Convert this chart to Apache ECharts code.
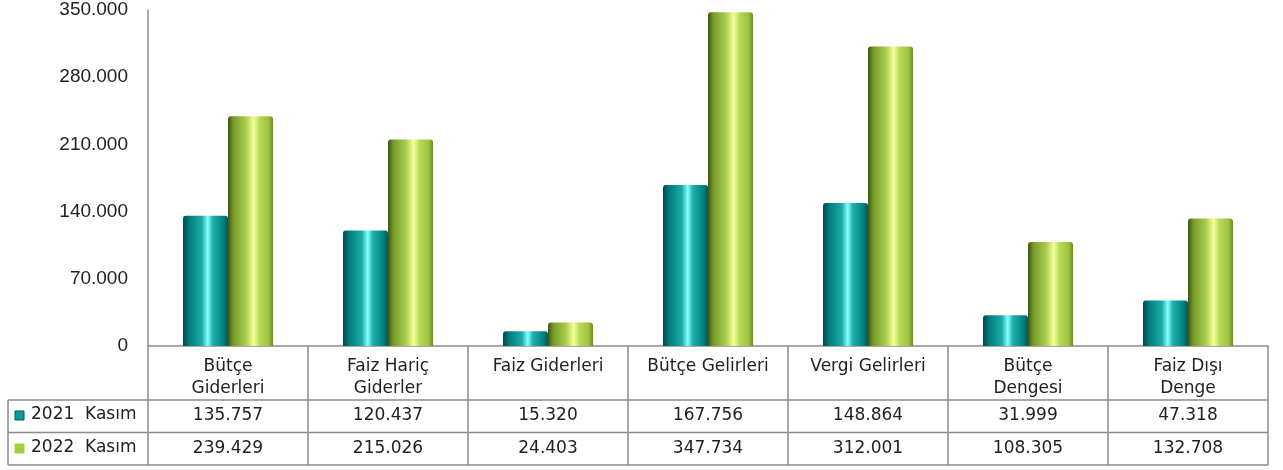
<!DOCTYPE html>
<html>
<head>
<meta charset="utf-8">
<script src="https://cdn.jsdelivr.net/npm/echarts@6/dist/echarts.min.js"></script>
<style>
  html, body { margin: 0; padding: 0; background: #fff; }
  #chart { width: 1283px; height: 470px; }
</style>
</head>
<body>
<div id="chart"></div>
<script>
// kategoriler ve seriler
const categories = ['Bütçe\nGiderleri', 'Faiz Hariç\nGiderler', 'Faiz Giderleri', 'Bütçe Gelirleri', 'Vergi Gelirleri', 'Bütçe\nDengesi', 'Faiz Dışı\nDenge'];
const seriesNames = ['2021  Kasım', '2022  Kasım'];
const values2021 = [135757, 120437, 15320, 167756, 148864, 31999, 47318];
const values2022 = [239429, 215026, 24403, 347734, 312001, 108305, 132708];

// binlik ayırıcı "."
function fmt(v) {
  return String(v).replace(/\B(?=(\d{3})+(?!\d))/g, '.');
}

const TABLE_FONT = 'DejaVu Sans';
const LINE = '#8c8c8c';

// silindir görünümü için yatay gradyanlar
const tealFill = new echarts.graphic.LinearGradient(0, 0, 1, 0, [
  { offset: 0, color: '#004c4c' },
  { offset: 0.15, color: '#007f7f' },
  { offset: 0.42, color: '#18abab' },
  { offset: 0.55, color: '#8cffff' },
  { offset: 0.66, color: '#1eb0b0' },
  { offset: 0.9, color: '#008282' },
  { offset: 1, color: '#005656' }
]);
const greenFill = new echarts.graphic.LinearGradient(0, 0, 1, 0, [
  { offset: 0, color: '#3e5410' },
  { offset: 0.12, color: '#779a2a' },
  { offset: 0.4, color: '#aacd4c' },
  { offset: 0.57, color: '#f4ff9a' },
  { offset: 0.7, color: '#b6da56' },
  { offset: 0.9, color: '#9cc240' },
  { offset: 1, color: '#6c8c22' }
]);

let chart = echarts.init(document.getElementById('chart'));

let option = {
  backgroundColor: '#fff',
  animation: false,
  grid: { left: 148, right: 15, top: 10, bottom: 124 },
  xAxis: [
    {
      type: 'category',
      data: categories,
      axisLine: { lineStyle: { color: LINE, width: 1.5 } },
      axisTick: { show: true, interval: 0, length: 119, lineStyle: { color: LINE, width: 1.5 } },
      axisLabel: {
        interval: 0, margin: 10, verticalAlign: 'top',
        fontFamily: TABLE_FONT, fontSize: 17, lineHeight: 22, color: '#222'
      }
    },
    {
      type: 'category',
      data: values2021.map(fmt),
      position: 'bottom',
      offset: 70,
      axisLine: { show: false },
      axisTick: { show: false },
      axisLabel: { interval: 0, margin: 0, verticalAlign: 'middle', fontFamily: TABLE_FONT, fontSize: 17, color: '#222' }
    },
    {
      type: 'category',
      data: values2022.map(fmt),
      position: 'bottom',
      offset: 103,
      axisLine: { show: false },
      axisTick: { show: false },
      axisLabel: { interval: 0, margin: 0, verticalAlign: 'middle', fontFamily: TABLE_FONT, fontSize: 17, color: '#222' }
    }
  ],
  yAxis: {
    type: 'value',
    min: 0,
    max: 350000,
    interval: 70000,
    axisLine: { show: true, lineStyle: { color: LINE, width: 1.5 } },
    axisTick: { show: false },
    splitLine: { show: false },
    axisLabel: {
      margin: 20,
      fontFamily: '"Liberation Sans", Arial, sans-serif', fontSize: 19, color: '#222',
      formatter: fmt
    }
  },
  series: [
    {
      name: seriesNames[0],
      type: 'bar',
      data: values2021,
      barWidth: 45,
      barGap: '0%',
      itemStyle: { color: tealFill, borderRadius: [3, 3, 0, 0] }
    },
    {
      name: seriesNames[1],
      type: 'bar',
      data: values2022,
      barWidth: 45,
      itemStyle: { color: greenFill, borderRadius: [3, 3, 0, 0] }
    }
  ],
  // veri tablosu çizgileri ve gösterge hücreleri
  graphic: [
    { type: 'line', shape: { x1: 8, y1: 400, x2: 1268, y2: 400 }, style: { stroke: LINE, lineWidth: 1.5 } },
    { type: 'line', shape: { x1: 8, y1: 432.5, x2: 1268, y2: 432.5 }, style: { stroke: LINE, lineWidth: 1.5 } },
    { type: 'line', shape: { x1: 8, y1: 465, x2: 1268, y2: 465 }, style: { stroke: LINE, lineWidth: 1.5 } },
    { type: 'line', shape: { x1: 8, y1: 400, x2: 8, y2: 465 }, style: { stroke: LINE, lineWidth: 1.5 } },
    { type: 'rect', shape: { x: 15, y: 411, width: 9, height: 9 }, style: { fill: '#0a9a9a', stroke: '#005a5a', lineWidth: 1 } },
    { type: 'rect', shape: { x: 15, y: 444, width: 9, height: 9 }, style: { fill: '#a4d040', stroke: '#a4d040', lineWidth: 1 } },
    { type: 'text', left: 31, top: 406, style: { text: seriesNames[0], font: '17px "DejaVu Sans"', fill: '#222' } },
    { type: 'text', left: 31, top: 439, style: { text: seriesNames[1], font: '17px "DejaVu Sans"', fill: '#222' } }
  ]
};

chart.setOption(option);
</script>
</body>
</html>
